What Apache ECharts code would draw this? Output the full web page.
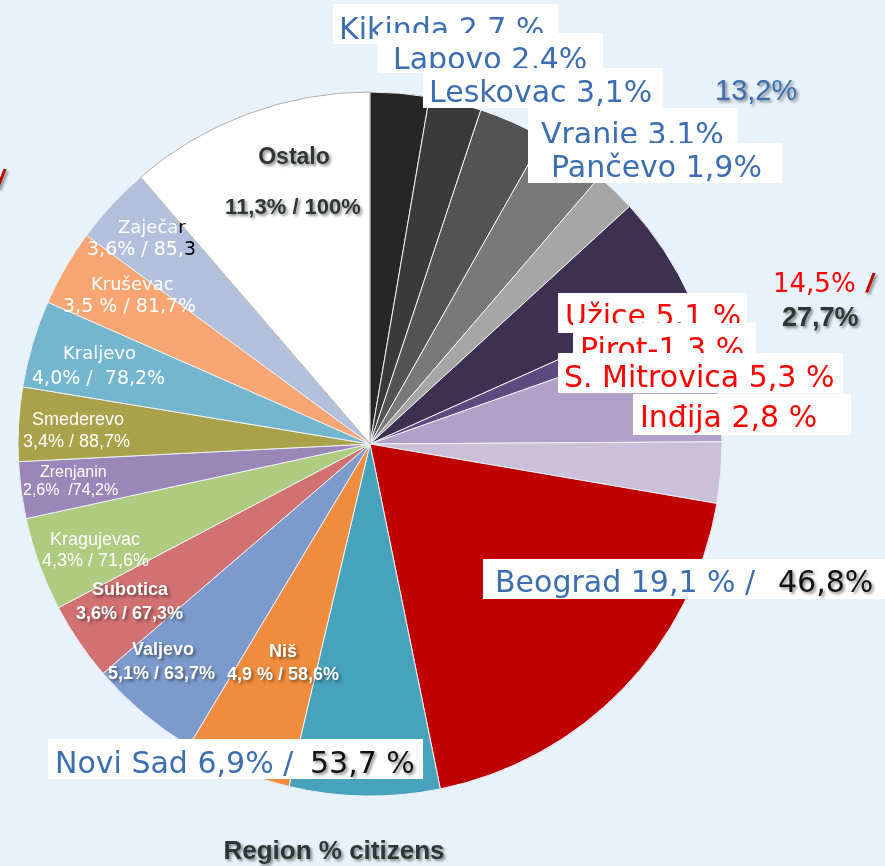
<!DOCTYPE html>
<html>
<head>
<meta charset="utf-8">
<script src="https://cdn.jsdelivr.net/npm/echarts@6/dist/echarts.min.js"></script>
<style>
  html, body { margin: 0; padding: 0; background: #e8f2fa; }
  #chart { width: 885px; height: 866px; }
</style>
</head>
<body>
<div id="chart"></div>
<script>
// slices, clockwise from 12 o'clock
const regions = ["Kikinda", "Lapovo", "Leskovac", "Vranje", "Pančevo", "Užice", "Pirot",
  "S. Mitrovica", "Inđija", "Beograd", "Novi Sad", "Niš", "Valjevo", "Subotica",
  "Kragujevac", "Zrenjanin", "Smederevo", "Kraljevo", "Kruševac", "Zaječar", "Ostalo"];
const shares = [2.7, 2.4, 3.1, 3.1, 1.9, 5.1, 1.3, 5.3, 2.8, 19.1, 6.9, 4.9, 5.1, 3.6,
  4.3, 2.6, 3.4, 4.0, 3.5, 3.6, 11.3];

// printed texts
const topLabels = ["Kikinda 2.7 %", "Lapovo 2,4%", "Leskovac 3,1%", "Vranje 3,1%", "Pančevo 1,9%"];
const midLabels = ["Užice 5.1 %", "Pirot-1.3 %", "S. Mitrovica 5,3 %", "Inđija 2,8 %"];
const groupTotals = ["13,2%", "14,5%", "27,7%"];
const bigLabels = [["Beograd 19,1 % /", "46,8%"], ["Novi Sad 6,9% /", "53,7 %"]];
const innerLabels = [
  ["Ostalo", "11,3% / 100%"],
  ["Zaječar", "3,6% / 85,3"],
  ["Kruševac", "3,5 % / 81,7%"],
  ["Kraljevo", "4,0% /  78,2%"],
  ["Smederevo", "3,4% / 88,7%"],
  ["Zrenjanin", "2,6%  /74,2%"],
  ["Kragujevac", "4,3% / 71,6%"],
  ["Subotica", "3,6% / 67,3%"],
  ["Valjevo", "5,1% / 63,7%"],
  ["Niš", "4,9 % / 58,6%"]
];
const title = "Region % citizens";

const colors = ["#262626", "#3a3a3a", "#535353", "#797979", "#a6a6a6", "#3e3050", "#5e4a7e",
  "#b1a1c8", "#cbc0da", "#c00000", "#47a2bb", "#ef8c3e", "#7c9acb", "#d17171",
  "#aecb80", "#9b86b8", "#aaa24b", "#73b6cd", "#f7a673", "#b3c0dc", "#ffffff"];

// ---- layout (x, baseline) ----
const topBoxes = [[333, 4, 225, 40], [378, 33, 225, 40], [423, 68, 240, 40], [528, 108, 210, 40], [528, 143, 254, 40]];
const topPos = [[339, 37], [393, 67], [429, 100], [541, 142], [551, 175]];
const midBoxes = [[558, 293, 189, 40], [573, 323, 183, 40], [558, 353, 285, 40], [633, 394, 218, 41]];
const midPos = [[565, 324], [580, 357], [564, 385], [640, 425]];
const bigBoxes = [[483, 559, 402, 40], [48, 739, 375, 40]];
const bigPos = [[495, 778, 590], [55, 310, 771]];
const innerPos = [
  [294, 162, 293, 212], [118, 232, 87, 253], [91, 289, 63, 310], [63, 358, 32, 382],
  [32, 423, 23, 445], [40, 475, 23, 493], [50, 543, 42, 564], [92, 593, 76, 617],
  [132, 653, 108, 677], [269, 655, 227, 678]
];

const BLUE = "#3a6db2";
const RED = "#ff0000";
const DARK = "#2e3636";
const VER = "DejaVu Sans";
const ARI = "Liberation Sans";
const shadow = { textShadowColor: "rgba(0,0,0,0.45)", textShadowBlur: 3, textShadowOffsetX: 2, textShadowOffsetY: 2 };

let zc = 10;
const elements = [];
function box(b) {
  elements.push({ type: "rect", shape: { x: b[0], y: b[1], width: b[2], height: b[3] },
    style: { fill: "#fff" }, z: zc++, silent: true });
}
function txt(x, base, str, size, fill, opt = {}) {
  const weight = opt.bold ? "bold" : "normal";
  const style = opt.italic ? "italic" : "normal";
  elements.push({
    type: "text", x: x, y: base - 0.18 * size, silent: true, z: zc++,
    style: Object.assign({
      text: str, fill: fill,
      font: `${style} ${weight} ${size}px "${opt.family || VER}"`,
      textAlign: opt.align || "left", textVerticalAlign: "middle", verticalAlign: "middle"
    }, opt.shadow ? shadow : {}, opt.rich ? { rich: opt.rich } : {})
  });
}

topLabels.forEach((s, i) => { box(topBoxes[i]); txt(topPos[i][0], topPos[i][1], s, 30, BLUE); });
midLabels.forEach((s, i) => { box(midBoxes[i]); txt(midPos[i][0], midPos[i][1], s, 30, RED); });
bigLabels.forEach((p, i) => {
  box(bigBoxes[i]);
  txt(bigPos[i][0], bigPos[i][2], p[0], 30, BLUE);
  txt(bigPos[i][1], bigPos[i][2], p[1], 30, "#111", { shadow: true });
});

txt(715, 97, groupTotals[0], 29, BLUE, { family: ARI, shadow: true });
txt(773, 290, groupTotals[1], 26, RED);
txt(866, 290, "/", 26, "#c00000", { bold: true, italic: true, family: ARI, shadow: true });
txt(782, 323, groupTotals[2], 27, DARK, { bold: true, family: ARI, shadow: true });
txt(-3, 186, "/", 26, "#c00000", { bold: true, italic: true, family: ARI, shadow: true });

// label styles inside slices
const innerStyle = [
  { f1: 23, f2: 22, family: ARI, bold: true, fill: DARK, shadow: true, align: "center" },
  { f1: 18, f2: 19, family: VER, fill: "#fff", split: [6, 10] },
  { f1: 18, f2: 19, family: VER, fill: "#fff" },
  { f1: 18, f2: 19, family: VER, fill: "#fff" },
  { f1: 18, f2: 18, family: ARI, fill: "#fff" },
  { f1: 16, f2: 16, family: ARI, fill: "#fff" },
  { f1: 18, f2: 18, family: ARI, fill: "#fff" },
  { f1: 18, f2: 18, family: ARI, bold: true, fill: "#fff", shadow: true },
  { f1: 18, f2: 18, family: ARI, bold: true, fill: "#fff", shadow: true },
  { f1: 18, f2: 18, family: ARI, bold: true, fill: "#fff", shadow: true }
];
innerLabels.forEach((p, i) => {
  const st = innerStyle[i], pos = innerPos[i];
  const o = { family: st.family, bold: st.bold, shadow: st.shadow, align: st.align };
  if (st.split) {
    const rich = { w: { fill: "#fff" }, k: { fill: "#000" } };
    const a = p[0], b = p[1];
    txt(pos[0], pos[1], `{w|${a.slice(0, st.split[0])}}{k|${a.slice(st.split[0])}}`, st.f1, "#fff", Object.assign({ rich }, o));
    txt(pos[2], pos[3], `{w|${b.slice(0, st.split[1])}}{k|${b.slice(st.split[1])}}`, st.f2, "#fff", Object.assign({ rich }, o));
  } else {
    txt(pos[0], pos[1], p[0], st.f1, st.fill, o);
    txt(pos[2], pos[3], p[1], st.f2, st.fill, o);
  }
});

txt(334, 857, title, 26, DARK, { bold: true, family: ARI, shadow: true, align: "center" });

const chart = echarts.init(document.getElementById("chart"));
chart.setOption({
  backgroundColor: "#e8f2fa",
  animation: false,
  series: [{
    type: "pie",
    center: [370, 444],
    radius: 352,
    startAngle: 90,
    clockwise: true,
    silent: true,
    label: { show: false },
    labelLine: { show: false },
    itemStyle: { borderColor: "#eef2f6", borderWidth: 1 },
    data: regions.map((r, i) => ({
      name: r,
      value: shares[i],
      itemStyle: r === "Ostalo"
        ? { color: colors[i], borderColor: "#9a9a9a", borderWidth: 0.8 }
        : { color: colors[i] }
    }))
  }],
  graphic: { elements: elements }
});
</script>
</body>
</html>
